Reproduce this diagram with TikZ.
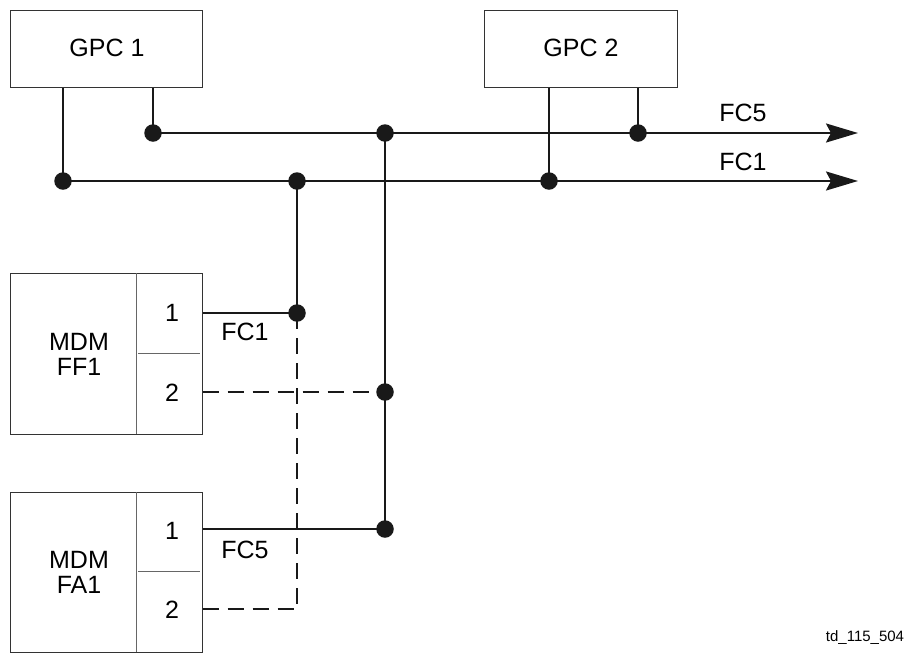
\documentclass[tikz,border=0pt]{standalone}
\usepackage{fontspec}
\setmainfont{Liberation Sans}
\usetikzlibrary{arrows.meta}
\begin{document}
\begin{tikzpicture}[x=1pt,y=-1pt,
  box/.style={draw=black!80,line width=1pt,inner sep=0pt},
  lbl/.style={font=\fontsize{25}{25}\selectfont,inner sep=0pt,align=center},
  bus/.style={line width=2.4pt,black!90},
  dsh/.style={line width=2.4pt,black!90,dash pattern=on 16pt off 9pt},
  dot/.style={circle,fill=black!90,inner sep=0pt,minimum size=17.5pt},
  arr/.style={bus,-{Stealth[length=32pt,width=19pt,inset=5pt]}},
  thin/.style={line width=1pt,black!60}]
\useasboundingbox (0,0) rectangle (908,654);
% GPC boxes
\node[box,minimum width=192pt,minimum height=77pt] (g1) at (106,48.5) {};
\node[lbl] (g1t) at (107,48) {GPC 1};
\node[box,minimum width=193pt,minimum height=77pt] (g2) at (580.5,48.5) {};
\node[lbl] (g2t) at (581,48) {GPC 2};
% MDM FF1
\node[box,minimum width=192pt,minimum height=161pt] (ff) at (106,353.5) {};
\node[lbl] (fft) at (79,354) {MDM\\FF1};
\node[lbl] (ffp1) at (172,313) {1};
\node[lbl] (ffp2) at (172,393) {2};
\draw[thin] (136,273) -- (136,434);
\draw[thin] (138,353) -- (200,353);
% MDM FA1
\node[box,minimum width=192pt,minimum height=160pt] (fa) at (106,572) {};
\node[lbl] (fat) at (79,572) {MDM\\FA1};
\node[lbl] (fap1) at (172,531) {1};
\node[lbl] (fap2) at (172,610) {2};
\draw[thin] (136,492) -- (136,652);
\draw[thin] (138,571) -- (200,571);
% junctions
\node[dot] (j1) at (63,181) {};
\node[dot] (j2) at (153,133) {};
\node[dot] (j3) at (385,133) {};
\node[dot] (j4) at (297,181) {};
\node[dot] (j5) at (549,181) {};
\node[dot] (j6) at (638,133) {};
\node[dot] (j7) at (297,313) {};
\node[dot] (j8) at (385,392) {};
\node[dot] (j9) at (385,529) {};
\coordinate (c10) at (297,609);
\coordinate (e5) at (858,133);
\coordinate (e1) at (858,181);
% GPC leads
\draw[bus] (g1.south -| j1) -- (j1.center);
\draw[bus] (g1.south -| j2) -- (j2.center);
\draw[bus] (g2.south -| j5) -- (j5.center);
\draw[bus] (g2.south -| j6) -- (j6.center);
% buses
\draw[arr] (j2.center) -- (e5);
\draw[arr] (j1.center) -- (e1);
\draw[bus] (j3.center) -- (j9.center);
\draw[bus] (j4.center) -- (j7.center);
\draw[dsh] (j7.center) -- (c10);
% port connections
\draw[bus] (ff.east |- j7) -- (j7.center);
\draw[dsh] (ff.east |- j8) -- (j8.center);
\draw[bus] (fa.east |- j9) -- (j9.center);
\draw[dsh] (fa.east |- c10) -- (c10);
% labels
\node[lbl] (l5) at (743,113) {FC5};
\node[lbl] (l1) at (743,162) {FC1};
\node[lbl] (lf1) at (245,332) {FC1};
\node[lbl] (lf5) at (245,550) {FC5};
\node[font=\fontsize{15}{15}\selectfont,inner sep=0pt] (td) at (865,638) {td\_115\_504};
\end{tikzpicture}
\end{document}
